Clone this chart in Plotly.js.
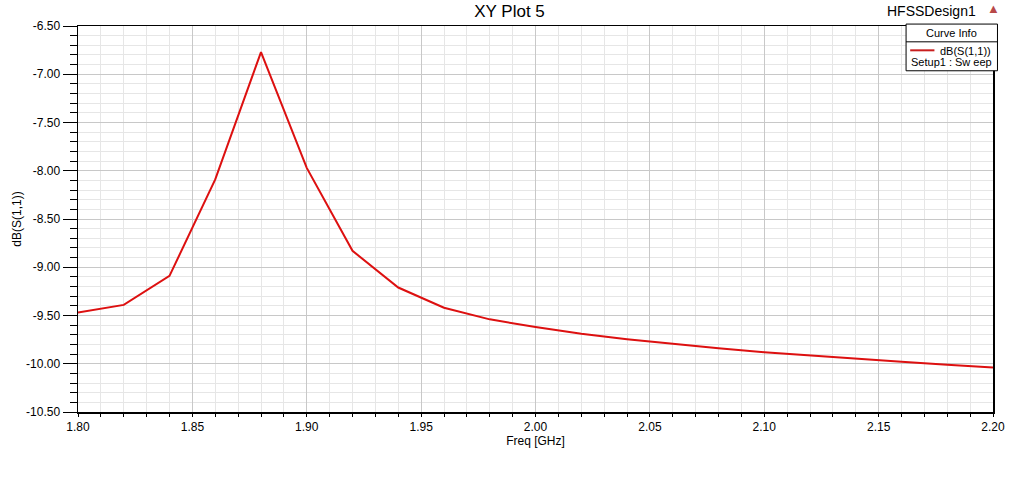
<!DOCTYPE html>
<html>
<head>
<meta charset="utf-8">
<script src="https://cdn.plot.ly/plotly-3.0.1.min.js"></script>
<style>html,body{margin:0;padding:0;background:#fff}#chart{width:1013px;height:480px}</style>
</head>
<body>
<div id="chart"></div>
<script>
var freq = [1.80, 1.82, 1.84, 1.86, 1.88, 1.90, 1.92, 1.94, 1.96, 1.98, 2.00, 2.02, 2.04, 2.06, 2.08, 2.10, 2.12, 2.14, 2.16, 2.18, 2.20];
var dbS11 = [-9.47, -9.39, -9.09, -8.09, -6.77, -7.97, -8.83, -9.21, -9.42, -9.54, -9.62, -9.69, -9.745, -9.795, -9.84, -9.88, -9.915, -9.95, -9.98, -10.01, -10.04];
var xTickVals = [1.80, 1.85, 1.90, 1.95, 2.00, 2.05, 2.10, 2.15, 2.20];
var xTickText = ["1.80", "1.85", "1.90", "1.95", "2.00", "2.05", "2.10", "2.15", "2.20"];
var yTickVals = [-6.5, -7.0, -7.5, -8.0, -8.5, -9.0, -9.5, -10.0, -10.5];
var yTickText = ["-6.50", "-7.00", "-7.50", "-8.00", "-8.50", "-9.00", "-9.50", "-10.00", "-10.50"];
var traceName = "dB(S(1,1))";
var setupName = "Setup1 : Sw eep";

var font = "Liberation Sans, Arial, sans-serif";
var data = [{
  x: freq, y: dbS11, type: "scatter", mode: "lines", name: traceName,
  line: {color: "#dd1010", width: 2}, hoverinfo: "skip"
}];
var layout = {
  width: 1013, height: 480,
  margin: {l: 78, r: 20, t: 26, b: 68},
  paper_bgcolor: "#ffffff", plot_bgcolor: "#ffffff",
  showlegend: false,
  font: {family: font, color: "#000", size: 12},
  title: {text: "XY Plot 5", font: {family: font, size: 17, color: "#000"}, x: 0.503, xanchor: "center", y: 0.978, yanchor: "middle"},
  xaxis: {
    range: [1.80, 2.20], tickmode: "array", tickvals: xTickVals, ticktext: xTickText,
    showgrid: true, gridcolor: "#c8c8c8", gridwidth: 1,
    showline: true, linecolor: "#000", linewidth: 1.5, mirror: true,
    ticks: "outside", ticklen: 3, tickcolor: "#000",
    tickfont: {family: font, size: 12},
    minor: {dtick: 0.01, tick0: 1.80, showgrid: true, gridcolor: "#e6e6e6", ticks: "outside", ticklen: 3, tickcolor: "#000"},
    zeroline: false,
    title: {text: "Freq [GHz]", font: {family: font, size: 12}, standoff: 0}
  },
  yaxis: {
    range: [-10.5, -6.5], tickmode: "array", tickvals: yTickVals, ticktext: yTickText,
    showgrid: true, gridcolor: "#c8c8c8", gridwidth: 1,
    showline: true, linecolor: "#000", linewidth: 1.5, mirror: true,
    ticks: "outside", ticklen: 14, tickcolor: "#000",
    tickfont: {family: font, size: 12},
    minor: {dtick: 0.1, tick0: -10.5, showgrid: true, gridcolor: "#e6e6e6", ticks: "outside", ticklen: 7, tickcolor: "#000"},
    zeroline: false,
    title: {text: "dB(S(1,1))", font: {family: font, size: 12}, standoff: 2}
  },
  shapes: [
    {type: "rect", xref: "paper", yref: "paper", x0: 0.905, x1: 1.0049, y0: 0.884, y1: 1.005, line: {color: "#000", width: 1}, fillcolor: "#fff", layer: "above"},
    {type: "line", xref: "paper", yref: "paper", x0: 0.905, x1: 1.0049, y0: 0.959, y1: 0.959, line: {color: "#000", width: 1}, layer: "above"},
    {type: "line", xref: "paper", yref: "paper", x0: 0.9095, x1: 0.936, y0: 0.937, y1: 0.937, line: {color: "#c81e1e", width: 2}, layer: "above"}
  ],
  annotations: [
    {text: "HFSSDesign1", xref: "paper", yref: "paper", x: 0.933, y: 1.039, xanchor: "center", yanchor: "middle", showarrow: false, font: {family: font, size: 14, color: "#000"}},
    {text: "▲", xref: "paper", yref: "paper", x: 1.0, y: 1.045, xanchor: "center", yanchor: "middle", showarrow: false, font: {family: font, size: 13, color: "#b84848"}},
    {text: "Curve Info", xref: "paper", yref: "paper", x: 0.955, y: 0.983, xanchor: "center", yanchor: "middle", showarrow: false, font: {family: font, size: 11, color: "#000"}},
    {text: traceName, xref: "paper", yref: "paper", x: 1.0, y: 0.935, xanchor: "right", yanchor: "middle", showarrow: false, font: {family: font, size: 11, color: "#000"}},
    {text: setupName, xref: "paper", yref: "paper", x: 0.9085, y: 0.906, xanchor: "left", yanchor: "middle", showarrow: false, font: {family: font, size: 11, color: "#000"}}
  ]
};
Plotly.newPlot("chart", data, layout, {staticPlot: true, displayModeBar: false});
</script>
</body>
</html>
